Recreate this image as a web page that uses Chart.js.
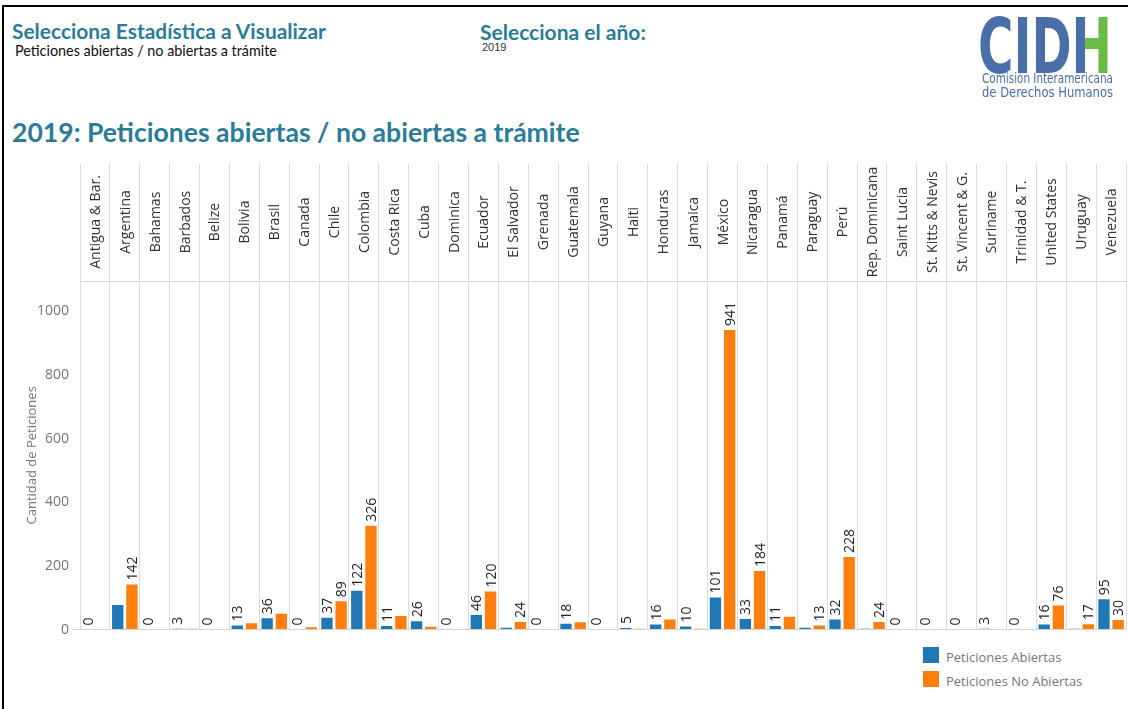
<!DOCTYPE html>
<html>
<head>
<meta charset="utf-8">
<script src="https://cdn.jsdelivr.net/npm/chart.js@4.4.1/dist/chart.umd.min.js"></script>
<style>
  html, body { margin: 0; padding: 0; background: #fff; }
  #page { position: relative; width: 1128px; height: 709px; overflow: hidden; font-family: 'Open Sans', sans-serif; }
  #frame { position: absolute; left: 2px; top: 5px; right: -4px; bottom: -4px; border-top: 2px solid #000; border-left: 2px solid #000; }
  .t { position: absolute; white-space: nowrap; line-height: 1; }
  .sel { font-family: Lato, 'Open Sans', sans-serif; font-weight: bold; font-size: 20px; color: #2b7c99; }
  .sub { font-family: Lato, 'Open Sans', sans-serif; font-size: 14px; color: #111; }
  .title { font-family: Lato, 'Open Sans', sans-serif; font-weight: bold; font-size: 26px; color: #2b7c99; }
  .logo { font-family: 'Liberation Sans Narrow', 'DejaVu Sans Condensed', 'Liberation Sans', sans-serif; color: #4a6fa8; transform-origin: 0 0; }
  #cidh { font-weight: bold; font-size: 76px; }
  #cidh .h { background: linear-gradient(90deg, #4a6fa8 0 34%, #6bbb47 34% 100%); -webkit-background-clip: text; background-clip: text; color: transparent; }
  .logosub { font-size: 14px; }
  #chartBox { position: absolute; left: 0; top: 160px; width: 1128px; height: 481px; }
  .leg { position: absolute; left: 923px; font-size: 13px; color: #777; font-family: 'Open Sans', sans-serif; }
  .leg i { position: absolute; left: 0; top: 0; width: 16px; height: 16px; }
  .leg span { position: absolute; left: 23px; top: 1px; line-height: 18px; white-space: nowrap; }
</style>
</head>
<body>
<div id="page">
  <div id="frame"></div>
  <div class="t sel" data-fit="314" style="left:12px; top:21px;">Selecciona Estadística a Visualizar</div>
  <div class="t sub" data-fit="262" style="left:15px; top:44px;">Peticiones abiertas / no abiertas a trámite</div>
  <div class="t sel" data-fit="166" style="left:480px; top:21px;">Selecciona el año:</div>
  <div class="t" style="left:482px; top:42px; font-family:'Liberation Sans',Arial,sans-serif; font-size:11px; color:#333;">2019</div>
  <div class="t title" data-fit="568" style="left:12px; top:119px;">2019: Peticiones abiertas / no abiertas a trámite</div>

  <div class="t logo" id="cidh" data-w="134" style="left:978px; top:9px;">CID<span class="h">H</span></div>
  <div class="t logo logosub" data-w="131" style="left:982px; top:71px;">Comisión Interamericana</div>
  <div class="t logo logosub" data-w="131" style="left:982px; top:85px;">de Derechos Humanos</div>

  <div id="chartBox"><canvas id="c" width="1128" height="481"></canvas></div>
  <div id="legend"></div>
</div>
<script>
// ---- DATA ----
const categories = ["Antigua & Bar.", "Argentina", "Bahamas", "Barbados", "Belize", "Bolivia", "Brasil", "Canada", "Chile", "Colombia", "Costa Rica", "Cuba", "Dominica", "Ecuador", "El Salvador", "Grenada", "Guatemala", "Guyana", "Haiti", "Honduras", "Jamaica", "México", "Nicaragua", "Panamá", "Paraguay", "Perú", "Rep. Dominicana", "Saint Lucia", "St. Kitts & Nevis", "St. Vincent & G.", "Suriname", "Trinidad & T.", "United States", "Uruguay", "Venezuela"];
const seriesNames = ["Peticiones Abiertas", "Peticiones No Abiertas"];
const abiertas   = [0, 77, 0, 3, 0, 13, 36, 0, 37, 122, 11, 26, 0, 46, 6, 0, 18, 0, 5, 16, 10, 101, 33, 11, 6, 32, 3, 0, 0, 0, 3, 0, 16, 3, 95];
const noAbiertas = [0, 142, 0, 3, 0, 20, 50, 7, 89, 326, 43, 9, 0, 120, 24, 0, 23, 0, 3, 32, 3, 941, 184, 40, 13, 228, 24, 0, 0, 0, 0, 0, 76, 17, 30];
// which bars carry a value label (as in the reference)
const labelAbiertas   = [1,0,1,1,1,1,1,1,1,1,1,1,1,1,0,1,1,1,1,1,1,1,1,1,0,1,0,1,1,1,1,1,1,0,1];
const labelNoAbiertas = [0,1,0,0,0,0,0,0,1,1,0,0,0,1,1,0,0,0,0,0,0,1,1,0,1,1,1,0,0,0,0,0,1,1,1];
const yTicks = [0, 200, 400, 600, 800, 1000];
const yAxisTitle = "Cantidad de Peticiones";
const colors = ["#1f77b4", "#ff7f0e"];

// ---- text fitting ----
document.querySelectorAll('[data-fit]').forEach(el => {
  const w = el.getBoundingClientRect().width;
  const fs = parseFloat(getComputedStyle(el).fontSize);
  el.style.fontSize = (fs * parseFloat(el.dataset.fit) / w) + 'px';
});
document.querySelectorAll('[data-w]').forEach(el => {
  const w = el.getBoundingClientRect().width;
  el.style.transform = 'scaleX(' + (parseFloat(el.dataset.w) / w) + ')';
});

// ---- legend ----
const legend = document.getElementById('legend');
seriesNames.forEach((n, i) => {
  const d = document.createElement('div');
  d.className = 'leg';
  d.style.top = (647 + i * 24) + 'px';
  d.innerHTML = '<i style="background:' + colors[i] + '"></i><span>' + n + '</span>';
  legend.appendChild(d);
});

const headerLabels = {
  id: 'headerLabels',
  afterDraw(chart) {
    const xs = chart.scales.x, ctx = chart.ctx;
    const cy = (xs.top + xs.bottom) / 2;
    ctx.save();
    ctx.font = "14px 'Open Sans'";
    ctx.fillStyle = '#333';
    ctx.textAlign = 'center';
    ctx.textBaseline = 'middle';
    categories.forEach((c, i) => {
      const x = xs.getPixelForValue(i);
      ctx.save();
      ctx.translate(x + 1, cy);
      ctx.rotate(-Math.PI / 2);
      ctx.fillText(c, 0, 0);
      ctx.restore();
    });
    ctx.restore();
  }
};

const valueLabels = {
  id: 'valueLabels',
  afterDatasetsDraw(chart) {
    const ctx = chart.ctx;
    const flags = [labelAbiertas, labelNoAbiertas];
    ctx.save();
    ctx.font = "14px 'Open Sans'";
    ctx.fillStyle = '#222';
    ctx.textAlign = 'left';
    ctx.textBaseline = 'middle';
    chart.data.datasets.forEach((ds, di) => {
      const meta = chart.getDatasetMeta(di);
      meta.data.forEach((bar, i) => {
        if (!flags[di][i]) return;
        ctx.save();
        ctx.translate(bar.x + 1, bar.y - 4);
        ctx.rotate(-Math.PI / 2);
        ctx.fillText(String(ds.data[i]), 0, 0);
        ctx.restore();
      });
    });
    ctx.restore();
  }
};

new Chart(document.getElementById('c'), {
  type: 'bar',
  data: {
    labels: categories,
    datasets: [
      { label: seriesNames[0], data: abiertas, backgroundColor: colors[0], borderWidth: 0, categoryPercentage: 0.95, barPercentage: 0.8 },
      { label: seriesNames[1], data: noAbiertas, backgroundColor: colors[1], borderWidth: 0, categoryPercentage: 0.95, barPercentage: 0.8 }
    ]
  },
  options: {
    responsive: false,
    devicePixelRatio: 1,
    animation: false,
    layout: { padding: { top: 3, bottom: 9, left: 0, right: 2 } },
    plugins: { legend: { display: false }, tooltip: { enabled: false } },
    scales: {
      x: {
        position: 'top',
        offset: true,
        ticks: { display: false },
        grid: { offset: true, color: '#dcdcdc', lineWidth: 1, tickLength: 118, drawOnChartArea: true },
        border: { display: true, color: '#d4d4d4' },
        afterFit: s => { s.height = 118; }
      },
      y: {
        min: 0, max: 1095,
        afterBuildTicks: s => { s.ticks = yTicks.map(v => ({ value: v })); },
        ticks: { font: { family: 'Open Sans', size: 14 }, color: '#777', padding: 3, includeBounds: false, callback: v => String(v) },
        grid: {
          color: c => (c.tick && c.tick.value === 0) ? '#d4d4d4' : 'rgba(0,0,0,0)',
          tickLength: 8
        },
        border: { display: false },
        title: { display: true, text: yAxisTitle, font: { family: 'Open Sans', size: 13 }, color: '#777', padding: { top: 24, bottom: 0 } },
        afterFit: s => { s.width = 80; }
      }
    }
  },
  plugins: [headerLabels, valueLabels]
});
</script>
</body>
</html>
